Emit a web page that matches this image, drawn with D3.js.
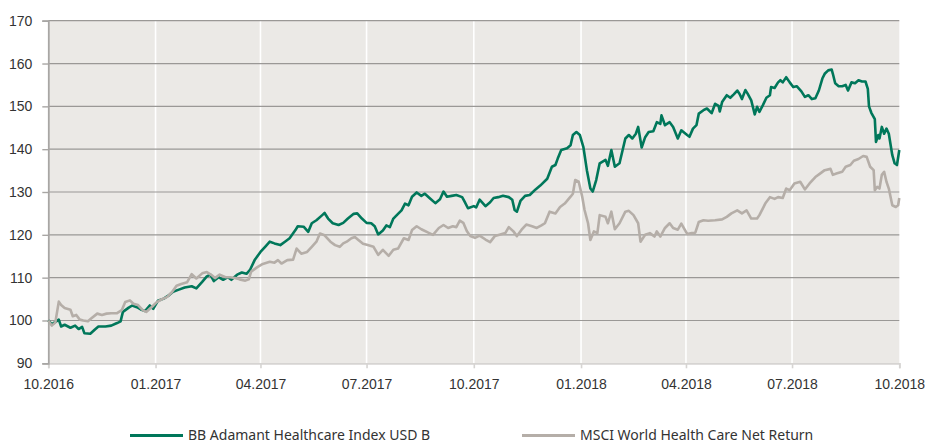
<!DOCTYPE html>
<html>
<head>
<meta charset="utf-8">
<script src="https://cdn.jsdelivr.net/npm/d3@7"></script>
<style>
  body { margin: 0; background: #fff; }
  #chart { display: block; font-family: "Noto Sans", "Open Sans", sans-serif; }
</style>
</head>
<body>
<svg id="chart"></svg>
<script>
// tick labels
const yTicks = [90, 100, 110, 120, 130, 140, 150, 160, 170];
const xTickLabels = ["10.2016", "01.2017", "04.2017", "07.2017", "10.2017", "01.2018", "04.2018", "07.2018", "10.2018"];
const seriesNames = ["BB Adamant Healthcare Index USD B", "MSCI World Health Care Net Return"];

// BB Adamant Healthcare Index USD B
const bbDates = [
  "2016-10-01","2016-10-04","2016-10-10","2016-10-12","2016-10-15","2016-10-20","2016-10-24","2016-10-27","2016-10-30",
  "2016-11-01","2016-11-06","2016-11-10","2016-11-13","2016-11-19","2016-11-24","2016-11-29","2016-12-02","2016-12-04",
  "2016-12-09","2016-12-12","2016-12-16","2016-12-20","2016-12-23","2016-12-27","2016-12-30","2017-01-03","2017-01-08",
  "2017-01-12","2017-01-16","2017-01-21","2017-01-26","2017-02-01","2017-02-05","2017-02-10","2017-02-14","2017-02-17",
  "2017-02-20","2017-02-24","2017-02-28","2017-03-04","2017-03-07","2017-03-12","2017-03-16","2017-03-20","2017-03-23",
  "2017-03-27","2017-04-01","2017-04-05","2017-04-09","2017-04-13","2017-04-18","2017-04-22","2017-04-26","2017-05-01",
  "2017-05-03","2017-05-08","2017-05-12","2017-05-15","2017-05-19","2017-05-24","2017-05-26","2017-05-29","2017-06-02",
  "2017-06-07","2017-06-11","2017-06-15","2017-06-20","2017-06-23","2017-06-27","2017-07-01","2017-07-05","2017-07-08",
  "2017-07-11","2017-07-15","2017-07-18","2017-07-21","2017-07-24","2017-07-28","2017-07-31","2017-08-03","2017-08-06",
  "2017-08-09","2017-08-13","2017-08-17","2017-08-20","2017-08-24","2017-08-29","2017-09-02","2017-09-05","2017-09-08",
  "2017-09-12","2017-09-16","2017-09-21","2017-09-23","2017-09-26","2017-10-01","2017-10-03","2017-10-06","2017-10-11",
  "2017-10-15","2017-10-18","2017-10-22","2017-10-26","2017-10-31","2017-11-03","2017-11-05","2017-11-07","2017-11-10",
  "2017-11-14","2017-11-18","2017-11-23","2017-11-27","2017-12-03","2017-12-07","2017-12-10","2017-12-12","2017-12-15",
  "2017-12-20","2017-12-23","2017-12-25","2017-12-28","2017-12-31","2018-01-03","2018-01-06","2018-01-09","2018-01-11",
  "2018-01-14","2018-01-17","2018-01-22","2018-01-24","2018-01-27","2018-01-30","2018-02-03","2018-02-08","2018-02-11",
  "2018-02-14","2018-02-17","2018-02-19","2018-02-22","2018-02-25","2018-02-28","2018-03-04","2018-03-07","2018-03-10",
  "2018-03-11","2018-03-14","2018-03-18","2018-03-21","2018-03-25","2018-03-28","2018-04-02","2018-04-04","2018-04-07",
  "2018-04-10","2018-04-12","2018-04-16","2018-04-19","2018-04-23","2018-04-26","2018-04-29","2018-04-30","2018-05-02",
  "2018-05-06","2018-05-09","2018-05-12","2018-05-15","2018-05-17","2018-05-19","2018-05-22","2018-05-24","2018-05-27",
  "2018-05-30","2018-06-01","2018-06-03","2018-06-06","2018-06-09","2018-06-12","2018-06-13","2018-06-16","2018-06-19",
  "2018-06-21","2018-06-23","2018-06-26","2018-06-29","2018-07-02","2018-07-05","2018-07-09","2018-07-12","2018-07-15",
  "2018-07-18","2018-07-21","2018-07-24","2018-07-27","2018-07-29","2018-08-01","2018-08-04","2018-08-05","2018-08-07",
  "2018-08-10","2018-08-13","2018-08-16","2018-08-18","2018-08-21","2018-08-24","2018-08-27","2018-08-30","2018-09-02",
  "2018-09-04","2018-09-05","2018-09-07","2018-09-10","2018-09-11","2018-09-13","2018-09-14","2018-09-16","2018-09-18",
  "2018-09-20","2018-09-22","2018-09-25","2018-09-27","2018-09-29","2018-10-01"
];
const bbValues = [
  100, 99.1, 100.2, 98.6, 99, 98.3, 98.8, 98.0, 98.5,
  97, 96.9, 97.9, 98.6, 98.6, 98.8, 99.4, 99.8, 102,
  103, 103.5, 103.1, 102.5, 102.2, 103.5, 102.7, 104.6, 105.1,
  105.8, 106.7, 107.2, 107.7, 108, 107.5, 109, 110.3, 110.7,
  109.2, 110.1, 109.5, 110.1, 109.5, 110.7, 111.2, 110.9, 111.8,
  114.1, 116, 117.2, 118.4, 118, 117.6, 118.4, 119.2, 121.1,
  122, 121.9, 120.7, 122.7, 123.4, 124.6, 125.1, 123.8, 122.7,
  122.3, 122.8, 123.8, 124.9, 125, 123.8, 122.8, 122.7, 122.0,
  120.1, 121, 122.2, 121.8, 123.8, 124.9, 125.7, 127.3, 126.9,
  128.9, 129.9, 129.1, 129.6, 128.6, 127.4, 128.3, 130.1, 128.9,
  129.1, 129.3, 128.8, 127.8, 126.2, 126.7, 126.4, 128.2, 126.7,
  127.6, 128.6, 128.8, 129.1, 128.8, 128.2, 125.8, 125.4, 127.9,
  129.1, 129.3, 130.6, 131.5, 133.1, 135.9, 136.3, 137.8, 139.8,
  140.2, 140.9, 143.3, 144, 143.3, 140.5, 135.1, 130.8, 130.1,
  132.8, 136.7, 137.5, 136.1, 139.8, 135.9, 136.7, 142.5, 143.3,
  142.5, 143.6, 145.2, 140.4, 142.8, 144, 144.2, 146.3, 145.9,
  147.9, 145.6, 146.3, 145.2, 142.5, 144.4, 143.3, 142.9, 144.8,
  145.6, 148.3, 149.1, 149.5, 148.4, 150.6, 150.1, 148.8, 151,
  152.6, 152, 152.8, 153.7, 152.9, 151.7, 153.8, 152.9, 151.4,
  148.1, 149.9, 148.7, 150.3, 152, 152.6, 154.5, 154.3, 155.6,
  156.1, 155.6, 156.8, 155.6, 154.5, 154.7, 153.5, 152.2, 152.6,
  151.7, 151.9, 153.7, 156.5, 157.6, 158.4, 158.6, 157.6, 155.4,
  154.7, 154.7, 155, 153.7, 155.6, 155.4, 156.1, 155.8, 155.8,
  154.1, 150, 148.5, 147, 141.7, 143.3, 142.5, 145.2, 143.6,
  144.8, 143.6, 138.6, 136.7, 136.3, 139.8
];

// MSCI World Health Care Net Return
const msciDates = [
  "2016-10-01","2016-10-04","2016-10-07","2016-10-10","2016-10-12","2016-10-15","2016-10-20","2016-10-22","2016-10-25",
  "2016-10-28","2016-10-31","2016-11-04","2016-11-07","2016-11-12","2016-11-16","2016-11-20","2016-11-24","2016-11-29",
  "2016-12-03","2016-12-06","2016-12-10","2016-12-13","2016-12-17","2016-12-21","2016-12-24","2016-12-29","2017-01-02",
  "2017-01-06","2017-01-11","2017-01-15","2017-01-19","2017-01-23","2017-01-28","2017-02-01","2017-02-05","2017-02-10",
  "2017-02-14","2017-02-18","2017-02-21","2017-02-25","2017-03-02","2017-03-06","2017-03-10","2017-03-14","2017-03-19",
  "2017-03-22","2017-03-24","2017-03-29","2017-04-03","2017-04-09","2017-04-13","2017-04-16","2017-04-19","2017-04-24",
  "2017-04-29","2017-05-02","2017-05-06","2017-05-11","2017-05-15","2017-05-19","2017-05-22","2017-05-26","2017-05-31",
  "2017-06-04","2017-06-08","2017-06-11","2017-06-14","2017-06-18","2017-06-21","2017-06-24","2017-06-28","2017-07-02",
  "2017-07-07","2017-07-11","2017-07-15","2017-07-20","2017-07-24","2017-07-28","2017-08-02","2017-08-06","2017-08-09",
  "2017-08-13","2017-08-17","2017-08-23","2017-08-27","2017-09-01","2017-09-05","2017-09-09","2017-09-13","2017-09-16",
  "2017-09-19","2017-09-22","2017-09-25","2017-09-28","2017-10-02","2017-10-06","2017-10-11","2017-10-15","2017-10-19",
  "2017-10-23","2017-10-28","2017-10-31","2017-11-04","2017-11-07","2017-11-11","2017-11-15","2017-11-20","2017-11-24",
  "2017-11-28","2017-12-01","2017-12-05","2017-12-10","2017-12-14","2017-12-18","2017-12-23","2017-12-25","2017-12-27",
  "2017-12-30","2018-01-02","2018-01-04","2018-01-07","2018-01-09","2018-01-12","2018-01-15","2018-01-17","2018-01-22",
  "2018-01-24","2018-01-27","2018-01-30","2018-02-03","2018-02-08","2018-02-11","2018-02-15","2018-02-19","2018-02-21",
  "2018-02-25","2018-03-01","2018-03-05","2018-03-07","2018-03-10","2018-03-14","2018-03-18","2018-03-21","2018-03-25",
  "2018-03-28","2018-04-02","2018-04-06","2018-04-09","2018-04-12","2018-04-16","2018-04-20","2018-04-26","2018-05-02",
  "2018-05-06","2018-05-10","2018-05-15","2018-05-19","2018-05-23","2018-05-27","2018-06-01","2018-06-03","2018-06-08",
  "2018-06-12","2018-06-16","2018-06-19","2018-06-23","2018-06-26","2018-06-29","2018-07-03","2018-07-08","2018-07-12",
  "2018-07-16","2018-07-21","2018-07-25","2018-07-29","2018-08-03","2018-08-05","2018-08-08","2018-08-13","2018-08-16",
  "2018-08-20","2018-08-23","2018-08-27","2018-08-31","2018-09-03","2018-09-06","2018-09-09","2018-09-10","2018-09-12",
  "2018-09-14","2018-09-16","2018-09-18","2018-09-20","2018-09-22","2018-09-25","2018-09-28","2018-09-30","2018-10-01"
];
const msciValues = [
  100, 98.8, 99.5, 104.4, 103.6, 102.9, 102.5, 101, 101.3,
  100.2, 100, 99.8, 100.5, 101.6, 101.3, 101.6, 101.7, 101.7,
  102.4, 104.3, 104.7, 103.9, 103.6, 102.4, 102, 103.2, 104.3,
  104.9, 105.5, 106.6, 108.1, 108.5, 108.9, 110.8, 109.8, 111,
  111.3, 110.6, 109.9, 110.7, 110.1, 110.1, 109.9, 109.6, 109.3,
  109.6, 111.4, 112.4, 113.2, 113.7, 113.5, 114.1, 113.3, 114.1,
  114.2, 116.8, 115.6, 116, 117.2, 118.4, 120.3, 119.9, 118.4,
  117.6, 117.2, 118, 118.4, 119.2, 119.5, 118.8, 117.9, 117.6,
  117.2, 115.3, 116.5, 115.1, 116.5, 116.8, 119.2, 118.8, 121.1,
  122, 121.3, 120.5, 120, 121.6, 122.3, 121.6, 122, 121.8,
  123.3, 122.8, 120.9, 119.7, 119.3, 119.8, 118.9, 118.3, 119.7,
  120, 120.4, 121.8, 120.8, 119.7, 121.2, 122.4, 122, 121.6,
  122.2, 122.7, 125.4, 125, 126.5, 127.3, 128.9, 129.6, 132.8,
  132.4, 128.9, 125.8, 122.7, 118.8, 120.8, 120.4, 124.6, 124.2,
  122.7, 125.4, 121.3, 122.7, 125.4, 125.6, 124.6, 122.7, 118.4,
  120, 120.4, 119.6, 120.8, 119.6, 121.6, 122.7, 121.6, 121.2,
  122.6, 120.2, 120.4, 120.5, 123, 123.4, 123.3, 123.4, 123.6,
  124.2, 125, 125.7, 125, 125.7, 123.8, 123.8, 124.6, 127.3,
  128.8, 128.4, 128.8, 128.6, 130.8, 130.4, 132, 132.4, 130.6,
  132, 133.5, 134.3, 135.1, 135.4, 134, 134.3, 134.7, 135.9,
  136.3, 137.3, 137.7, 138.4, 138.2, 135.9, 135.1, 130.4, 131.2,
  130.8, 134, 134.7, 132.4, 130.8, 126.9, 126.5, 126.9, 128.6
];

const colors = ["#00775a", "#b5aea8"];
const width = 926;
const height = 444;
const margin = { top: 20.7, right: 26.7, bottom: 80.7, left: 48.3 };

const parseDate = d3.timeParse("%Y-%m-%d");
const parseTick = d3.timeParse("%m.%Y");

function drawChart() {
  let svg = d3.select("#chart")
    .attr("width", width)
    .attr("height", height);

  let x0 = margin.left;
  let x1 = width - margin.right;
  let y0 = height - margin.bottom;
  let y1 = margin.top;

  let xScale = d3.scaleTime()
    .domain([parseTick(xTickLabels[0]), parseTick(xTickLabels[xTickLabels.length - 1])])
    .range([x0, x1]);

  let yScale = d3.scaleLinear()
    .domain([d3.min(yTicks), d3.max(yTicks)])
    .range([y0, y1]);

  // plot background
  svg.append("rect")
    .attr("x", x0)
    .attr("y", y1)
    .attr("width", x1 - x0)
    .attr("height", y0 - y1)
    .attr("fill", "#ebe9e6");

  let tickDates = xTickLabels.map(parseTick);

  // vertical white grid
  svg.append("g")
    .selectAll("line")
    .data(tickDates.slice(1, -1))
    .enter().append("line")
    .attr("x1", d => xScale(d))
    .attr("x2", d => xScale(d))
    .attr("y1", y1)
    .attr("y2", y0)
    .attr("stroke", "#ffffff")
    .attr("stroke-width", 1.6);

  // horizontal grid
  svg.append("g")
    .selectAll("line")
    .data(yTicks.slice(1))
    .enter().append("line")
    .attr("x1", x0)
    .attr("x2", x1)
    .attr("y1", d => yScale(d))
    .attr("y2", d => yScale(d))
    .attr("stroke", "#9a9896")
    .attr("stroke-width", 1.2);

  // x axis
  let xAxis = d3.axisBottom(xScale)
    .tickValues(tickDates)
    .tickSize(5)
    .tickPadding(11)
    .tickFormat((d, i) => xTickLabels[i]);

  let gx = svg.append("g")
    .attr("transform", `translate(0, ${y0})`)
    .call(xAxis);
  gx.select(".domain").attr("stroke", "#d6d4d2").attr("stroke-width", 1.8);
  gx.selectAll(".tick line").attr("stroke", "#d6d4d2").attr("stroke-width", 1.6);
  gx.selectAll("text")
    .style("font-size", "14px")
    .style("fill", "#333");

  // y axis
  let yAxis = d3.axisLeft(yScale)
    .tickValues(yTicks)
    .tickSize(6)
    .tickPadding(10);

  let gy = svg.append("g")
    .attr("transform", `translate(${x0}, 0)`)
    .call(yAxis);
  gy.select(".domain").attr("stroke", "#a8a6a4").attr("stroke-width", 1.8);
  gy.selectAll(".tick line").attr("stroke", "#a8a6a4").attr("stroke-width", 1.4);
  gy.selectAll("text")
    .style("font-size", "14px")
    .style("fill", "#333");

  let line = d3.line()
    .x(d => xScale(d.date))
    .y(d => yScale(d.value));

  let bbData = bbDates.map((d, i) => ({ date: parseDate(d), value: bbValues[i] }));
  let msciData = msciDates.map((d, i) => ({ date: parseDate(d), value: msciValues[i] }));

  svg.append("path")
    .datum(bbData)
    .attr("fill", "none")
    .attr("stroke", colors[0])
    .attr("stroke-width", 2.6)
    .attr("stroke-linejoin", "round")
    .attr("d", line);

  svg.append("path")
    .datum(msciData)
    .attr("fill", "none")
    .attr("stroke", colors[1])
    .attr("stroke-width", 2.6)
    .attr("stroke-linejoin", "round")
    .attr("d", line);

  // legend
  let legendX = [130, 522];
  let legend = svg.append("g");
  seriesNames.forEach((name, i) => {
    legend.append("line")
      .attr("x1", legendX[i])
      .attr("x2", legendX[i] + 53)
      .attr("y1", 435.5)
      .attr("y2", 435.5)
      .attr("stroke", colors[i])
      .attr("stroke-width", 3);
    legend.append("text")
      .attr("x", legendX[i] + 58)
      .attr("y", 439.5)
      .style("font-size", "14px")
      .style("fill", "#333")
      .text(name);
  });
}

drawChart();
</script>
</body>
</html>
